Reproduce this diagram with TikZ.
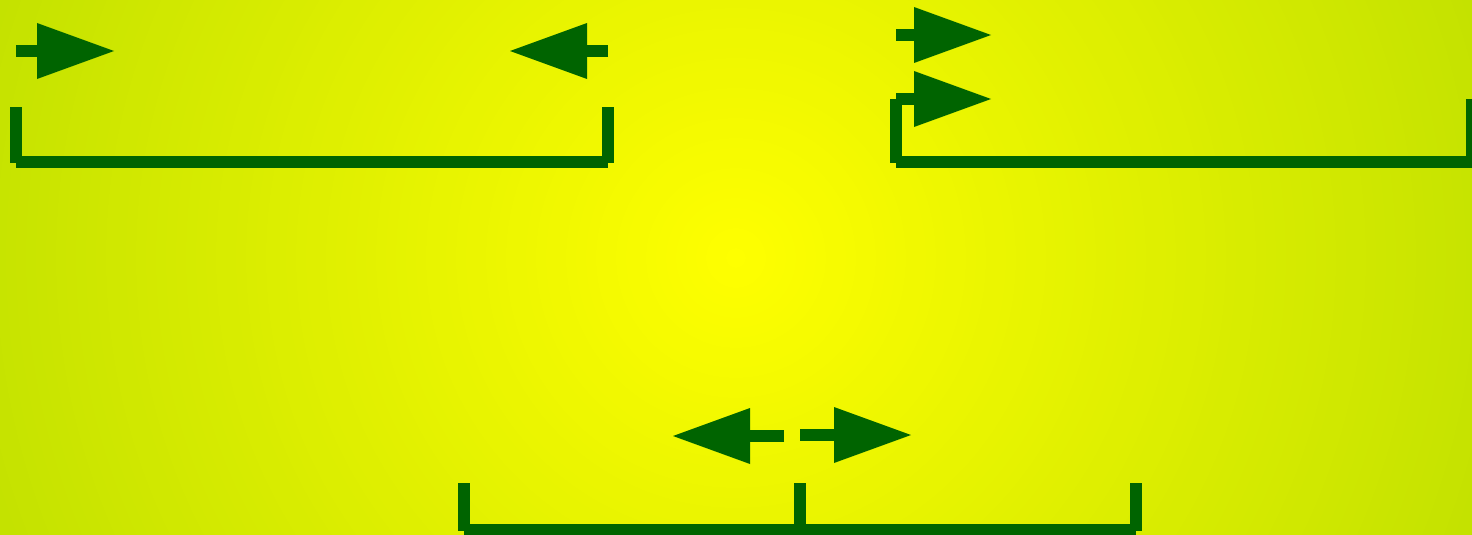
\documentclass[tikz,border=0pt]{standalone}
\usetikzlibrary{arrows.meta}
\definecolor{dg}{RGB}{0,100,0}
\definecolor{bgout}{RGB}{196,226,0}
\begin{document}
\begin{tikzpicture}[x=1pt,y=-1pt,
  bar/.style={draw=dg,line width=12pt,line cap=butt},
  arr/.style={draw=dg,line width=12pt,line cap=butt,-{Triangle[length=77pt,width=56pt,line width=0pt]}}]
\useasboundingbox (0,0) rectangle (1472,535);
\begin{scope}
  \clip (0,0) rectangle (1472,535);
  \fill[bgout] (0,0) rectangle (1472,535);
  \foreach \i in {80,79,...,1}{
    \pgfmathsetmacro\t{min(100,\i*10/7.83)}
    \fill[bgout!\t!yellow] (736,258) circle[radius=\i*10pt];
  }
\end{scope}
% group 1
\coordinate (a1s) at (16,51);   \coordinate (a1t) at (114,51);
\coordinate (a2s) at (608,51);  \coordinate (a2t) at (510,51);
\draw[arr] (a1s) -- (a1t);
\draw[arr] (a2s) -- (a2t);
\coordinate (b1a) at (16,107);  \coordinate (b1b) at (16,163);
\coordinate (b1c) at (16,162);  \coordinate (b1d) at (608,162);
\coordinate (b1e) at (608,107); \coordinate (b1f) at (608,163);
\draw[bar] (b1a) -- (b1b);
\draw[bar] (b1c) -- (b1d);
\draw[bar] (b1e) -- (b1f);
% group 2
\coordinate (a3s) at (896,35);  \coordinate (a3t) at (991,35);
\coordinate (a4s) at (896,99);  \coordinate (a4t) at (991,99);
\draw[arr] (a3s) -- (a3t);
\draw[arr] (a4s) -- (a4t);
\coordinate (b2b) at (896,163);
\coordinate (b2c) at (896,162); \coordinate (b2d) at (1472,162);
\coordinate (b2e) at (1472,99); \coordinate (b2f) at (1472,163);
\draw[bar] (a4s) -- (b2b);
\draw[bar] (b2c) -- (b2d);
\draw[bar] (b2e) -- (b2f);
% group 3
\coordinate (a5s) at (784,436); \coordinate (a5t) at (673,436);
\coordinate (a6s) at (800,435); \coordinate (a6t) at (911,435);
\draw[arr] (a5s) -- (a5t);
\draw[arr] (a6s) -- (a6t);
\coordinate (b3a) at (464,483);  \coordinate (b3b) at (464,531);
\coordinate (b3m) at (800,483);  \coordinate (b3n) at (800,530);
\coordinate (b3e) at (1136,483); \coordinate (b3f) at (1136,531);
\coordinate (b3c) at (464,530);  \coordinate (b3d) at (1136,530);
\draw[bar] (b3a) -- (b3b);
\draw[bar] (b3m) -- (b3n);
\draw[bar] (b3e) -- (b3f);
\draw[bar] (b3c) -- (b3d);
\end{tikzpicture}
\end{document}
